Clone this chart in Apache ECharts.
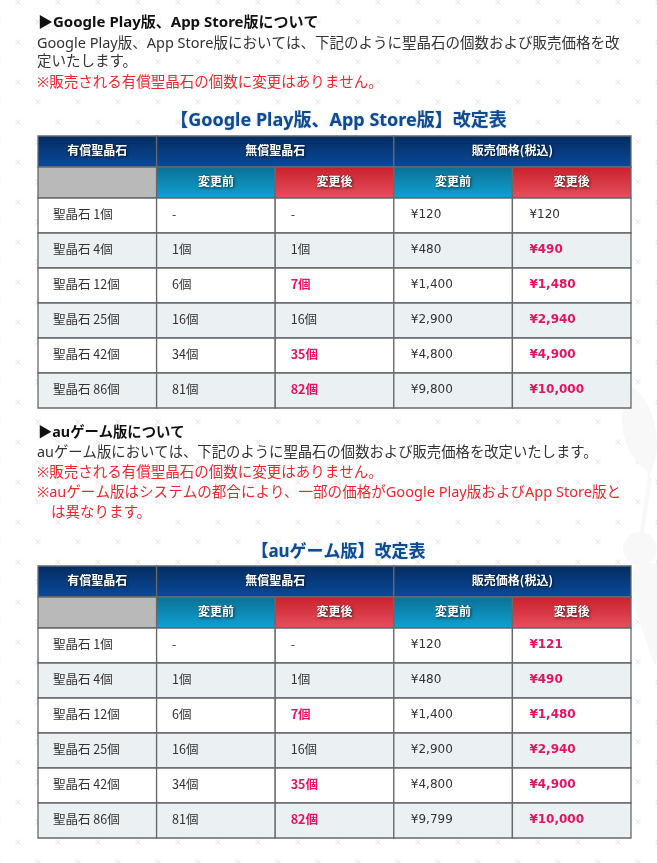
<!DOCTYPE html>
<html><head><meta charset="utf-8">
<style>html,body{margin:0;padding:0;background:#fff}#c{width:657px;height:863px}</style>
<script src="https://cdn.jsdelivr.net/npm/echarts@6/dist/echarts.min.js"></script>
</head><body><div id="c"></div>
<script>
const columns = ['有償聖晶石', '無償変更前', '無償変更後', '価格変更前', '価格変更後'];
const groupHeaders = ['有償聖晶石', '無償聖晶石', '販売価格(税込)'];
const subHeaders = ['変更前', '変更後'];
const paidGems = ['聖晶石 1個', '聖晶石 4個', '聖晶石 12個', '聖晶石 25個', '聖晶石 42個', '聖晶石 86個'];
const freeBefore = ['-', '1個', '6個', '16個', '34個', '81個'];
const freeAfter = ['-', '1個', '7個', '16個', '35個', '82個'];
const priceBeforeStore = ['¥120', '¥480', '¥1,400', '¥2,900', '¥4,800', '¥9,800'];
const priceAfterStore = ['¥120', '¥490', '¥1,480', '¥2,940', '¥4,900', '¥10,000'];
const priceBeforeAu = ['¥120', '¥480', '¥1,400', '¥2,900', '¥4,800', '¥9,799'];
const priceAfterAu = ['¥121', '¥490', '¥1,480', '¥2,940', '¥4,900', '¥10,000'];

const storeTitle = '【Google Play版、App Store版】改定表';
const auTitle = '【auゲーム版】改定表';
const JP = '"Noto Sans CJK JP","Noto Sans",sans-serif';
const LATIN_JP = '"Noto Sans","Noto Sans CJK JP",sans-serif';
const DIGIT_JP = '"DejaVu Sans","Noto Sans CJK JP",sans-serif';
const HEAD_H = 31, ROW_H = 35;
const rowTop = r => r < 2 ? r * HEAD_H : 2 * HEAD_H + (r - 2) * ROW_H;
const rowHeight = r => r < 2 ? HEAD_H : ROW_H;
const TABLE_H = 2 * HEAD_H + paidGems.length * ROW_H;

function tableCells(priceBefore, priceAfter) {
  const cells = [];
  cells.push([0, 0, 1, groupHeaders[0], 'navy'], [1, 0, 2, groupHeaders[1], 'navy'], [3, 0, 2, groupHeaders[2], 'navy']);
  cells.push([0, 1, 1, '', 'grey'], [1, 1, 1, subHeaders[0], 'blue'], [2, 1, 1, subHeaders[1], 'red'],
             [3, 1, 1, subHeaders[0], 'blue'], [4, 1, 1, subHeaders[1], 'red']);
  paidGems.forEach((g, i) => {
    const r = i + 2, alt = i % 2 === 1 ? 'alt' : 'plain';
    cells.push([0, r, 1, g, alt]);
    cells.push([1, r, 1, freeBefore[i], alt]);
    cells.push([2, r, 1, freeAfter[i], alt + (freeAfter[i] !== freeBefore[i] ? 'Hi' : '')]);
    cells.push([3, r, 1, priceBefore[i], alt]);
    cells.push([4, r, 1, priceAfter[i], alt + (priceAfter[i] !== priceBefore[i] ? 'Hi' : '')]);
  });
  return cells;
}
const grad = (a, b) => ({ type: 'linear', x: 0, y: 0, x2: 0, y2: 1, colorStops: [{ offset: 0, color: a }, { offset: 1, color: b }] });
const fills = {
  navy: grad('#032c5f', '#0a4a9c'),
  blue: grad('#0a6f94', '#10a3d4'),
  red: grad('#c8202c', '#e8505f'),
  grey: '#b9b9b9', plain: '#ffffff', alt: '#ebf0f3', plainHi: '#ffffff', altHi: '#ebf0f3'
};
function renderCell(params, api) {
  const col = api.value(0), row = api.value(1), span = api.value(2);
  const d = cellData[params.seriesIndex][params.dataIndex];
  const txt = d[3], kind = d[4];
  const bw = api.size([1, 0])[0];
  const left = api.coord([col, 0])[0] - bw / 2;
  const top = api.coord([0, rowTop(row)])[1];
  const w = bw * span, h = rowHeight(row);
  const isHead = row < 2, hi = /Hi$/.test(kind), isPrice = col >= 3;
  const pad = col === 0 ? 15 : isPrice ? 17 : 15.5;
  const children = [{
    type: 'rect', shape: { x: left, y: top, width: w, height: h },
    style: { fill: fills[kind], stroke: '#666a6e', lineWidth: 1.3 }
  }];
  if (txt) children.push({
    type: 'text', z2: 5,
    style: isHead ? {
      x: left + w / 2, y: top + h / 2 - 1, text: txt, fill: '#fff', align: 'center', verticalAlign: 'middle',
      font: 'bold 12px ' + JP, textShadowColor: 'rgba(0,0,0,0.75)', textShadowBlur: 3, textShadowOffsetX: 1, textShadowOffsetY: 1
    } : {
      x: left + pad, y: top + h / 2 - (isPrice ? 0.5 : 1.5), text: txt, fill: hi ? '#e8125f' : '#333', align: 'left', verticalAlign: 'middle',
      font: isPrice ? (hi ? 'bold 12px ' : '12px ') + DIGIT_JP : (hi ? 'bold ' : '') + '12.5px ' + JP
    }
  });
  return { type: 'group', children };
}
const cellData = [tableCells(priceBeforeStore, priceAfterStore), tableCells(priceBeforeAu, priceAfterAu)];
const tile = document.createElement('canvas');
tile.width = tile.height = 40;
(function () {
  const c = tile.getContext('2d');
  c.strokeStyle = '#ebebed'; c.lineWidth = 1.2;
  [[38, 22], [18, 2]].forEach(([x, y]) => {
    [[0, 0], [-40, 0], [0, 40], [-40, 40], [40, 0], [0, -40]].forEach(([dx, dy]) => {
      const X = x + dx, Y = y + dy;
      c.beginPath(); c.moveTo(X - 2.5, Y - 2.5); c.lineTo(X + 2.5, Y + 2.5);
      c.moveTo(X + 2.5, Y - 2.5); c.lineTo(X - 2.5, Y + 2.5); c.stroke();
    });
  });
})();
function line(x, y, text, fill, bold, size, extra) {
  return { type: 'text', x, y, silent: true, style: Object.assign({
    text, fill, font: (bold ? 'bold ' : '') + (size || 14) + 'px ' + LATIN_JP, verticalAlign: 'middle', align: 'left' }, extra || {}) };
}
const TITLE_BLUE = { textShadowColor: 'rgba(90,140,200,0.45)', textShadowBlur: 2, align: 'center' };
const WM = '#f8f8f9';
const chart = echarts.init(document.getElementById('c'), null, { renderer: 'canvas' });
const xAxisOf = g => ({ type: 'category', gridIndex: g, data: columns, show: false, boundaryGap: true });
const yAxisOf = g => ({ type: 'value', gridIndex: g, min: 0, max: TABLE_H, inverse: true, show: false });
const seriesOf = g => ({
  type: 'custom', xAxisIndex: g, yAxisIndex: g, data: cellData[g].map(d => d.slice(0, 3)), renderItem: renderCell, clip: false, silent: true,
  encode: { x: 0, y: 1 }
});
chart.setOption({
  animation: false,
  backgroundColor: { image: tile, repeat: 'repeat' },
  tooltip: { show: false },
  grid: [
    { left: 38, top: 136, width: 593, height: TABLE_H },
    { left: 38, top: 566, width: 593, height: TABLE_H }
  ],
  xAxis: [xAxisOf(0), xAxisOf(1)],
  yAxis: [yAxisOf(0), yAxisOf(1)],
  series: [seriesOf(0), seriesOf(1)],
  graphic: { elements: [
    { type: 'polygon', silent: true, shape: { smooth: 0.35, points: [[631,388],[622,420],[630,452],[647,472],[649,478],[657,445],[650,410]] }, style: { fill: WM } },
    { type: 'polygon', silent: true, shape: { points: [[648,475],[652,478],[644,532],[640,532]] }, style: { fill: WM } },
    { type: 'circle', silent: true, shape: { cx: 640, cy: 549, r: 17 }, style: { fill: WM } },
    { type: 'polygon', silent: true, shape: { smooth: 0.3, points: [[636,566],[634,600],[646,640],[656,665],[657,566]] }, style: { fill: WM } },
    line(38, 23, '▶Google Play版、App Store版について', '#111', true, 15),
    line(37, 44, 'Google Play版、App Store版においては、下記のように聖晶石の個数および販売価格を改', '#333', false, 14.5),
    line(37, 62, '定いたします。', '#333', false, 14.5),
    line(37, 83, '※販売される有償聖晶石の個数に変更はありません。', '#f0262c', false, 14.5),
    line(338.5, 121, storeTitle, '#0f4b92', true, 18, TITLE_BLUE),
    line(38, 433, '▶auゲーム版について', '#111', true, 14.3),
    line(37, 453, 'auゲーム版においては、下記のように聖晶石の個数および販売価格を改定いたします。', '#333', false, 14.35),
    line(37, 473, '※販売される有償聖晶石の個数に変更はありません。', '#f0262c', false, 14.5),
    line(37, 493, '※auゲーム版はシステムの都合により、一部の価格がGoogle Play版およびApp Store版と', '#f0262c', false, 14.55),
    line(51, 513, 'は異なります。', '#f0262c', false, 14.5),
    line(338.5, 552, auTitle, '#0f4b92', true, 17, TITLE_BLUE)
  ] }
});
</script></body></html>
